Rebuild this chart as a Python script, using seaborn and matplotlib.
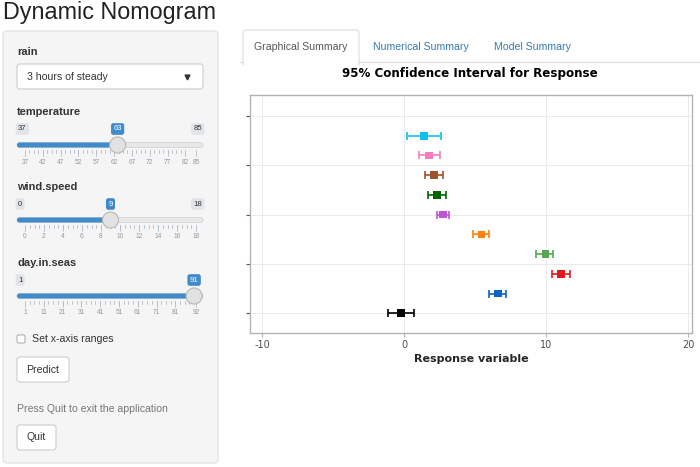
import numpy as np
import pandas as pd
import seaborn as sns
import matplotlib.pyplot as plt
from matplotlib.patches import FancyBboxPatch, Rectangle, Circle

# predictions, bottom row is the first one
preds = ['1', '2', '3', '4', '5', '6', '7', '8', '9', '10']
fit = [-0.22, 6.6, 11.05, 9.95, 5.45, 2.75, 2.3, 2.1, 1.75, 1.4]
lwr = [-1.16, 6.0, 10.4, 9.3, 4.85, 2.3, 1.7, 1.5, 1.05, 0.2]
upr = [0.72, 7.2, 11.7, 10.5, 6.0, 3.2, 2.95, 2.75, 2.5, 2.6]
colors = ['#000000', '#0d62c6', '#e3191c', '#55a753', '#ff7f0e',
          '#bf55d6', '#006400', '#a0522d', '#f47fc0', '#11bff5']

x_ticks = [-10, 0, 10, 20]
y_ticks = [0, 2.5, 5, 7.5, 10]

df = pd.DataFrame({'pred': preds, 'fit': fit, 'lwr': lwr, 'upr': upr})
df['row'] = np.arange(len(preds))

sns.set_style('white')
plt.rcParams['font.family'] = ['Liberation Sans', 'DejaVu Sans']
plt.rcParams['axes.unicode_minus'] = False

fig = plt.figure(figsize=(7, 4.67), dpi=100)

# page overlay in pixel coordinates
pg = fig.add_axes([0, 0, 1, 1])
pg.set_xlim(0, 700)
pg.set_ylim(467, 0)
pg.axis('off')

pg.text(3, 12, 'Dynamic Nomogram', fontsize=16.8, color='#222222', va='center')

# sidebar panel
pg.add_patch(FancyBboxPatch((3, 31), 215, 432, boxstyle='round,pad=0,rounding_size=4',
                            fc='#f5f5f5', ec='#e3e3e3', lw=1))

lab = dict(fontsize=7.9, fontweight='bold', color='#333333', va='center')
txt = dict(fontsize=7.6, color='#333333', va='center')
pg.text(17, 52, 'rain', **lab)
pg.add_patch(FancyBboxPatch((17, 64), 186, 25, boxstyle='round,pad=0,rounding_size=3',
                            fc='white', ec='#cccccc', lw=0.8))
pg.text(27, 77, '3 hours of steady', **txt)
pg.plot([187], [77], marker='v', ms=3.5, color='#333333')


def slider(ytop, name, vmin, vmax, val, ticks, minor, show_max=True):
    x0, x1 = 25, 196
    pos = lambda v: x0 + (v - vmin) / (vmax - vmin) * (x1 - x0)
    pg.text(17, ytop, name, **lab)
    yb = ytop + 17
    badge = dict(fontsize=5.6, va='center')
    pg.text(18, yb, str(vmin), color='#333333', ha='left',
            bbox=dict(boxstyle='round,pad=0.3', fc='#e1e4e9', ec='none'), **badge)
    if show_max:
        pg.text(202, yb, str(vmax), color='#333333', ha='right',
                bbox=dict(boxstyle='round,pad=0.3', fc='#e1e4e9', ec='none'), **badge)
    hx = pos(val)
    pg.text(hx, yb, str(val), color='white', ha='center',
            bbox=dict(boxstyle='round,pad=0.3', fc='#428bca', ec='none'), **badge)
    yt = ytop + 33
    pg.add_patch(FancyBboxPatch((17, yt - 2.5), 186, 5, boxstyle='round,pad=0,rounding_size=2.5',
                                fc='#e8e8e8', ec='#d4d4d4', lw=0.6))
    pg.add_patch(FancyBboxPatch((17, yt - 2.5), hx - 17, 5, boxstyle='round,pad=0,rounding_size=2.5',
                                fc='#428bca', ec='none'))
    for t in minor:
        pg.plot([pos(t), pos(t)], [yt + 5, yt + 8], color='#b0bccb', lw=0.6)
    for t in ticks:
        pg.plot([pos(t), pos(t)], [yt + 5, yt + 11], color='#b0bccb', lw=0.6)
        pg.text(pos(t), ytop + 50, str(t), fontsize=4.8, color='#999999', ha='center', va='center')
    pg.add_patch(Circle((hx, yt), 8, fc='#e2e2e2', ec='#b8b8b8', lw=0.8, zorder=5))


temp_ticks = [37, 42, 47, 52, 57, 62, 67, 72, 77, 82, 85]
wind_ticks = [0, 2, 4, 6, 8, 10, 12, 14, 16, 18]
day_ticks = [1, 11, 21, 31, 41, 51, 61, 71, 81, 92]
slider(112, 'temperature', 37, 85, 63, temp_ticks, np.arange(38.25, 82, 1.25))
slider(187, 'wind.speed', 0, 18, 9, wind_ticks, np.arange(0.5, 18, 0.5))
slider(263, 'day.in.seas', 1, 92, 91, day_ticks, np.arange(3.5, 92, 2.5), show_max=False)

pg.add_patch(FancyBboxPatch((17, 335), 8, 8, boxstyle='round,pad=0,rounding_size=1.5',
                            fc='white', ec='#999999', lw=0.6))
pg.text(32, 339, 'Set x-axis ranges', **txt)

pg.add_patch(FancyBboxPatch((17, 357), 52, 25, boxstyle='round,pad=0,rounding_size=3',
                            fc='white', ec='#cccccc', lw=0.8))
pg.text(43, 370, 'Predict', fontsize=7.6, color='#333333', ha='center', va='center')
pg.text(17, 409, 'Press Quit to exit the application', fontsize=7.6, color='#777777', va='center')
pg.add_patch(FancyBboxPatch((17, 425), 39, 25, boxstyle='round,pad=0,rounding_size=3',
                            fc='white', ec='#cccccc', lw=0.8))
pg.text(36.5, 437.5, 'Quit', fontsize=7.6, color='#333333', ha='center', va='center')

# tabs
pg.plot([240, 700], [61.5, 61.5], color='#dddddd', lw=0.8)
pg.add_patch(FancyBboxPatch((243, 30), 116, 36, boxstyle='round,pad=0,rounding_size=3',
                            fc='white', ec='#dddddd', lw=0.8))
pg.add_patch(Rectangle((243.6, 61), 114.8, 7, fc='white', ec='none', zorder=3))
pg.text(254, 46.5, 'Graphical Summary', fontsize=7.6, color='#555555', va='center')
pg.text(373, 46.5, 'Numerical Summary', fontsize=7.6, color='#337ab7', va='center')
pg.text(494, 46.5, 'Model Summary', fontsize=7.6, color='#337ab7', va='center')

pg.text(470, 74, '95% Confidence Interval for Response', fontsize=8.6, fontweight='bold',
        family='DejaVu Sans', color='black', ha='center', va='center')

# chart
ax = fig.add_axes([250 / 700, 1 - 333 / 467, 442 / 700, (333 - 94.7) / 467])
for i, r in df.iterrows():
    ax.errorbar(r['fit'], r['row'], xerr=[[r['fit'] - r['lwr']], [r['upr'] - r['fit']]],
                fmt='none', ecolor=colors[i], elinewidth=1.2, capsize=2.6, capthick=1.2)
sns.scatterplot(data=df, x='fit', y='row', hue='pred', palette=colors, marker='s', s=30,
                linewidth=0, legend=False, ax=ax, zorder=5)

ax.set_xlim(-10.85, 20.28)
ax.set_ylim(-1.0, 11.08)
ax.set_xticks(x_ticks)
ax.set_yticks(y_ticks)
ax.set_yticklabels([])
ax.grid(True, color='#ebebeb', lw=0.7)
ax.set_axisbelow(True)
for s in ax.spines.values():
    s.set_color('#b3b3b3')
    s.set_linewidth(1.0)
ax.tick_params(axis='x', length=3, color='#b3b3b3', labelsize=7, labelcolor='#4d4d4d', pad=2)
ax.tick_params(axis='y', length=3, color='#555555', left=True)
ax.tick_params(axis='x', bottom=True)
for t in ax.get_xticklabels():
    t.set_family('DejaVu Sans')
ax.set_xlabel('Response variable', fontsize=8, fontweight='bold', family='DejaVu Sans', labelpad=3)
ax.set_ylabel('')

fig.savefig('out.png', dpi=100)
